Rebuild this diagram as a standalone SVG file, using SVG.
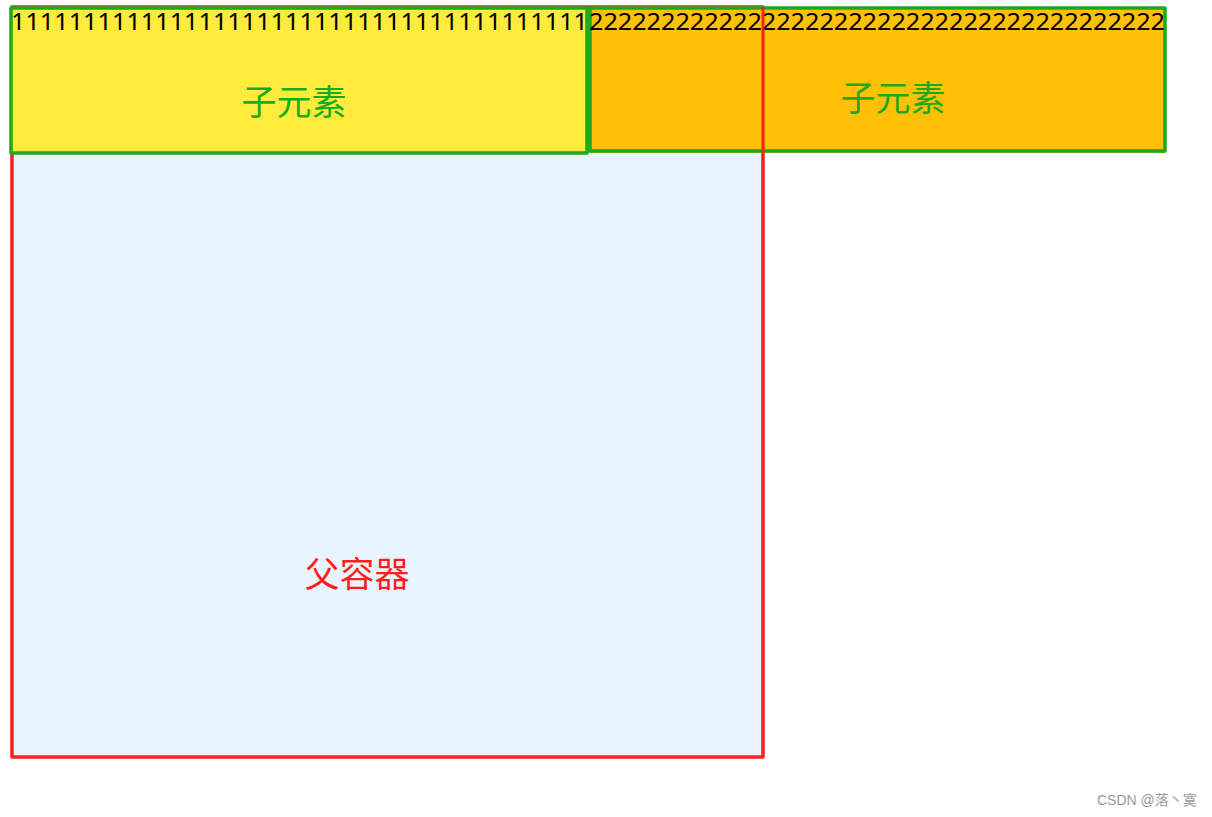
<svg xmlns="http://www.w3.org/2000/svg" width="1212" height="817" viewBox="0 0 1212 817">
<style>
.child{stroke:#1aab1a;stroke-width:3.5;stroke-linejoin:round}
.digits{font-family:"Noto Sans","Liberation Sans",sans-serif;font-size:24px;fill:#000}
.lbl{font-family:"Noto Sans CJK SC",sans-serif;font-size:35px}
</style>
<rect width="1212" height="817" fill="#fff"/>
<g id="parent">
<rect x="12" y="7" width="751" height="750" fill="#e8f4fd" stroke="#ff1e1e" stroke-width="3.5" stroke-linejoin="round"/>
<text class="lbl" x="357" y="587" text-anchor="middle" fill="#ff1e1e">父容器</text>
</g>
<g id="child1">
<rect class="child" x="11" y="8" width="576" height="145" fill="#ffeb3b"/>
<text class="digits" x="11" y="30" textLength="577" lengthAdjust="spacingAndGlyphs">1111111111111111111111111111111111111111</text>
<text class="lbl" x="294" y="115" text-anchor="middle" fill="#1aab1a">子元素</text>
</g>
<g id="child2">
<rect x="589" y="8" width="576" height="145" fill="#ffc107"/>
<rect class="child" x="590" y="8" width="575" height="143" fill="none"/>
<text class="digits" x="589" y="30" textLength="576" lengthAdjust="spacingAndGlyphs">2222222222222222222222222222222222222222</text>
<text class="lbl" x="893" y="111" text-anchor="middle" fill="#1aab1a">子元素</text>
</g>
<line x1="763" y1="7" x2="763" y2="153" stroke="#ff1e1e" stroke-width="3"/>
<text x="1097" y="805" font-family="'Liberation Sans','Noto Sans CJK SC',sans-serif" font-size="14" fill="#999">CSDN @落丶寞</text>
</svg>
